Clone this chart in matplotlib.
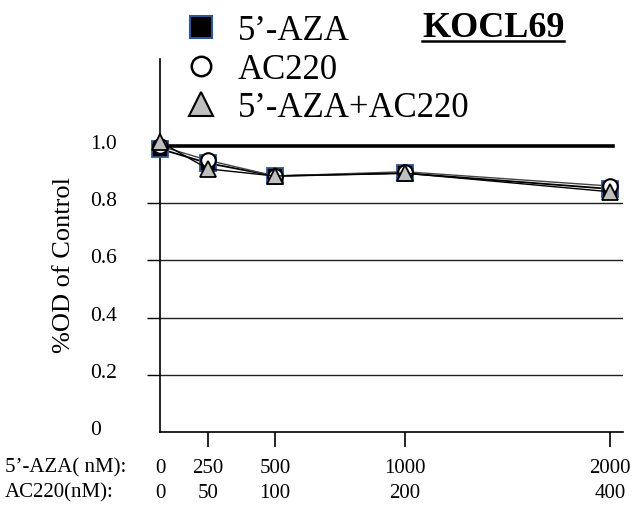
import matplotlib
matplotlib.use("Agg")
import matplotlib.pyplot as plt
from matplotlib.lines import Line2D
from matplotlib.transforms import ScaledTranslation

plt.rcParams["font.family"] = ["Liberation Serif", "DejaVu Serif"]

# dose positions along the (hand-spaced) x axis, and their labels
X_POS = [0, 48, 115, 245, 450]
AZA_NM = ["0", "250", "500", "1000", "2000"]
AC220_NM = ["0", "50", "100", "200", "400"]

# %OD of control
AZA_VALS = [0.99, 0.94, 0.895, 0.905, 0.85]
AC220_VALS = [1.00, 0.95, 0.895, 0.91, 0.86]
COMBO_VALS = [1.015, 0.92, 0.895, 0.905, 0.84]

Y_TICKS = [0, 0.2, 0.4, 0.6, 0.8, 1.0]
Y_LABELS = ["0", "0.2", "0.4", "0.6", "0.8", "1.0"]

BLUE_EDGE = "#2F5597"
GREY_FILL = "#BFBFBF"

fig = plt.figure(figsize=(6.38, 5.06), dpi=100, facecolor="white")
ax = fig.add_axes([160 / 638, 1 - 433 / 506, 463 / 638, 373 / 506])

ax.set_xlim(0, 463)
ax.set_ylim(0, 373 / 286)

# control reference line
ax.axhline(1.0, xmin=0, xmax=453 / 463, color="black", lw=2.6, zorder=2)

ax.plot(X_POS, AZA_VALS, color="black", lw=1.3, marker="s", ms=11.5,
        mfc="black", mec=BLUE_EDGE, mew=1.3, clip_on=False, zorder=4)
ax.plot(X_POS, AC220_VALS, color="#444444", lw=1.0, marker="o", ms=10.5,
        mfc="white", mec="black", mew=1.5, clip_on=False, zorder=5)
ax.plot(X_POS, COMBO_VALS, color="black", lw=1.0, marker="^", ms=11,
        mfc=GREY_FILL, mec="black", mew=1.3, clip_on=False, zorder=6)

# axes styling
for side in ["top", "right"]:
    ax.spines[side].set_visible(False)
for side in ["left", "bottom"]:
    ax.spines[side].set_linewidth(1.2)

ax.set_yticks(Y_TICKS)
ax.set_yticklabels(Y_LABELS, fontsize=15.5)
ax.tick_params(axis="y", direction="out", length=9.4, width=1.0, pad=41)
lift = ScaledTranslation(0, 5 / 100, fig.dpi_scale_trans)
for lab in ax.get_yticklabels():
    lab.set_horizontalalignment("left")
    lab.set_transform(lab.get_transform() + lift)
ax.yaxis.grid(True, color="#222222", lw=1.0)
ax.set_axisbelow(True)
yt = ax.yaxis.get_major_ticks()
for i in (0, len(yt) - 1):
    yt[i].tick1line.set_visible(False)
    yt[i].gridline.set_visible(False)

ax.set_xticks(X_POS)
ax.set_xticklabels([f"{a}\n{b}" for a, b in zip(AZA_NM, AC220_NM)], fontsize=15,
                   linespacing=1.38)
ax.tick_params(axis="x", direction="out", length=11, width=1.2, pad=8)
ax.xaxis.get_major_ticks()[0].tick1line.set_visible(False)

ax.set_ylabel("%OD of Control", fontsize=19)
ax.yaxis.set_label_coords(-85 / 463, 0.45)

fig.text(5 / 638, 1 - 468 / 506, "5\u2019-AZA( nM):", fontsize=15,
         ha="left", va="center")
fig.text(5 / 638, 1 - 493 / 506, "AC220(nM):", fontsize=15,
         ha="left", va="center")

# legend
handles = [
    Line2D([], [], ls="none", marker="s", ms=16, mfc="black", mec=BLUE_EDGE, mew=1.5),
    Line2D([], [], ls="none", marker="o", ms=14, mfc="white", mec="black", mew=1.8),
    Line2D([], [], ls="none", marker="^", ms=17, mfc=GREY_FILL, mec="black", mew=1.5),
]
labels = ["5\u2019-AZA", "AC220", "5\u2019-AZA+AC220"]
fig.legend(handles, labels, loc="upper left", bbox_to_anchor=(187 / 638, 0.97),
           frameon=False, fontsize=25, handlelength=0.8, handletextpad=0.66,
           labelspacing=0.16, borderpad=0, borderaxespad=0)

title = fig.text(422 / 638, 1 - 37 / 506, "KOCL69", fontsize=26,
                 fontweight="bold", ha="left", va="baseline")
fig.canvas.draw()
bb = title.get_window_extent().transformed(fig.transFigure.inverted())
fig.add_artist(Line2D([bb.x0, bb.x1], [1 - 42 / 506] * 2, color="black",
                      lw=1.8, transform=fig.transFigure))

fig.savefig("out.png", dpi=100, facecolor="white")
